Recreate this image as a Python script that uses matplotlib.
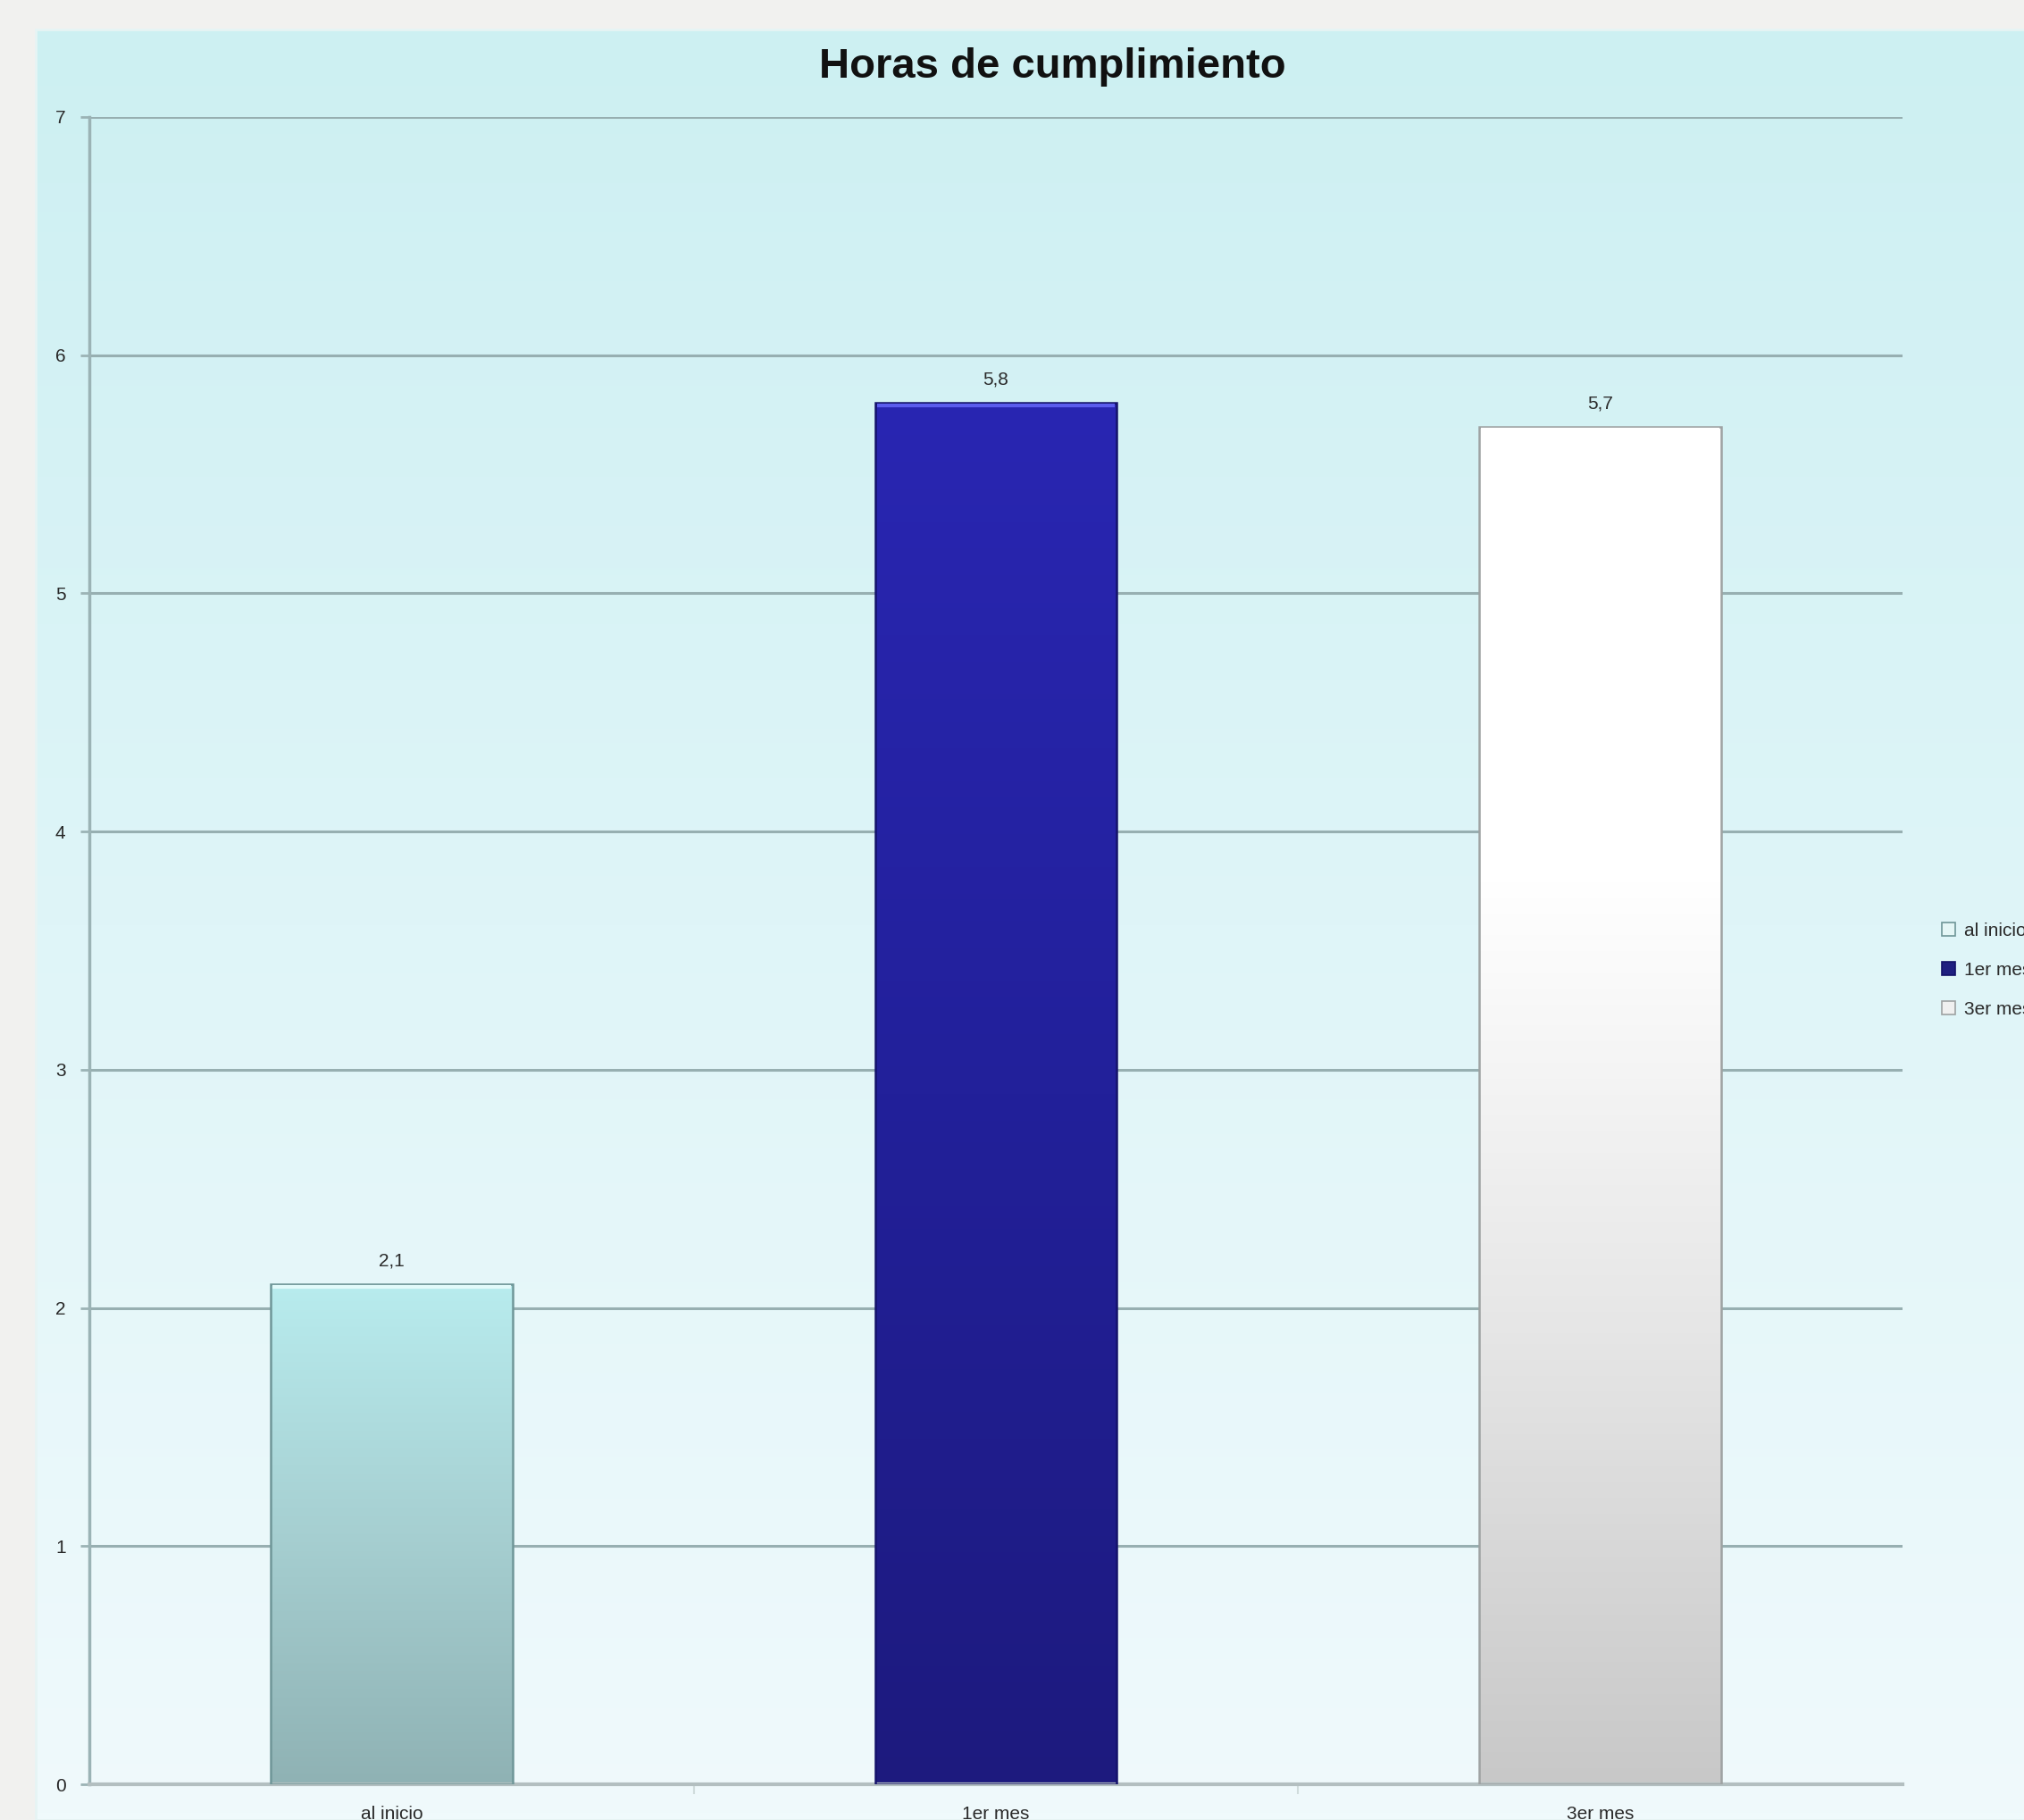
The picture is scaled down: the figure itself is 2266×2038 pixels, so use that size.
import numpy as np
import matplotlib.pyplot as plt
from matplotlib.colors import LinearSegmentedColormap
from matplotlib.patches import Patch, Rectangle

plt.rcParams['font.family'] = ['Liberation Sans', 'DejaVu Sans']

# data
categories = ["al inicio", "1er mes", "3er mes"]
horas = [2.1, 5.8, 5.7]
value_labels = ["2,1", "5,8", "5,7"]
yticks = [0, 1, 2, 3, 4, 5, 6, 7]

# bar gradients (bottom -> top)
grad_colors = [
    ["#8fb2b4", "#a6cfd1", "#b8ecee"],
    ["#1d1a7e", "#22209a", "#2926b2"],
    ["#c8c8c8", "#e6e6e6", "#ffffff", "#ffffff"],
]
edge_colors = ["#6f9698", "#14126a", "#9ea2a2"]
top_colors = ["#e2fafa", "#5b5cec", "#ffffff"]
legend_colors = ["#e4f6f6", "#1f1f80", "#f0f0f0"]

fig = plt.figure(figsize=(22.66, 20.38), dpi=100)
fig.patch.set_facecolor("#f1f1ef")

# chart area background with vertical gradient
bg = fig.add_axes([0, 0, 1, 1], zorder=-10)
bg.set_xlim(0, 1)
bg.set_ylim(0, 1)
bg.axis("off")
bg_cmap = LinearSegmentedColormap.from_list("bg", ["#f0fafc", "#dff5f8", "#cdf0f2"])
grad = np.linspace(0, 1, 256).reshape(-1, 1)
bg.imshow(grad, cmap=bg_cmap, origin="lower", aspect="auto",
          extent=[40 / 2266, 1, 0, 1 - 33 / 2038])
bg.add_patch(Rectangle((40 / 2266, 0), 1, 1 - 33 / 2038, fill=False,
                       edgecolor="#e6f4f4", linewidth=2))

ax = fig.add_axes([100 / 2266, 1 - 1998 / 2038, 2030 / 2266, 1867 / 2038])
ax.set_facecolor("none")

x = np.arange(len(categories))
bars = ax.bar(x, horas, width=0.4, color="none", zorder=3)

for i, b in enumerate(bars):
    x0, w, h = b.get_x(), b.get_width(), b.get_height()
    cmap = LinearSegmentedColormap.from_list("b%d" % i, grad_colors[i])
    im = ax.imshow(grad, cmap=cmap, origin="lower", aspect="auto",
                   extent=[x0, x0 + w, 0, h], zorder=2)
    im.set_clip_path(b)
    b.set_edgecolor(edge_colors[i])
    b.set_linewidth(1.8)
    ax.plot([x0 + 0.003, x0 + w - 0.003], [h - 0.012, h - 0.012],
            color=top_colors[i], linewidth=3, zorder=4, solid_capstyle="butt")
    ax.annotate(value_labels[i], (x[i], h), xytext=(0, 12),
                textcoords="offset points", ha="center", va="bottom",
                fontsize=15, color="#2a2a2a")

ax.set_xlim(-0.5, 2.5)
ax.set_ylim(0, 7)
ax.set_yticks(yticks)
ax.set_xticks(x)
ax.set_xticklabels(categories)
ax.set_xticks([0.5, 1.5], minor=True)

ax.yaxis.grid(True, color="#97afb1", linewidth=2.2, zorder=1)
ax.set_axisbelow(True)

for s in ["top", "right"]:
    ax.spines[s].set_visible(False)
ax.spines["left"].set_color("#9bb3b5")
ax.spines["left"].set_linewidth(2.5)
ax.spines["bottom"].set_color("#b3bfc0")
ax.spines["bottom"].set_linewidth(3)

ax.tick_params(axis="y", length=7, width=2, color="#9bb3b5", pad=12,
               labelsize=15, labelcolor="#2a2a2a")
ax.tick_params(axis="x", which="major", length=0, pad=17,
               labelsize=15, labelcolor="#2a2a2a")
ax.tick_params(axis="x", which="minor", length=8, width=1.5, color="#d0dcdc")

fig.text(1178 / 2266, 1 - 75 / 2038, "Horas de cumplimiento", ha="center",
         va="center", fontsize=34, fontweight="bold", color="#111111")

handles = [Patch(facecolor=legend_colors[i], edgecolor=edge_colors[i],
                 linewidth=1.2) for i in range(len(categories))]
fig.legend(handles, categories, loc="center left",
           bbox_to_anchor=(0.951, 1 - 1086 / 2038), frameon=False,
           fontsize=15, handlelength=0.75, handleheight=0.75,
           handletextpad=0.45, labelspacing=1.2, labelcolor="#2a2a2a")

fig.savefig("out.png", dpi=100)
